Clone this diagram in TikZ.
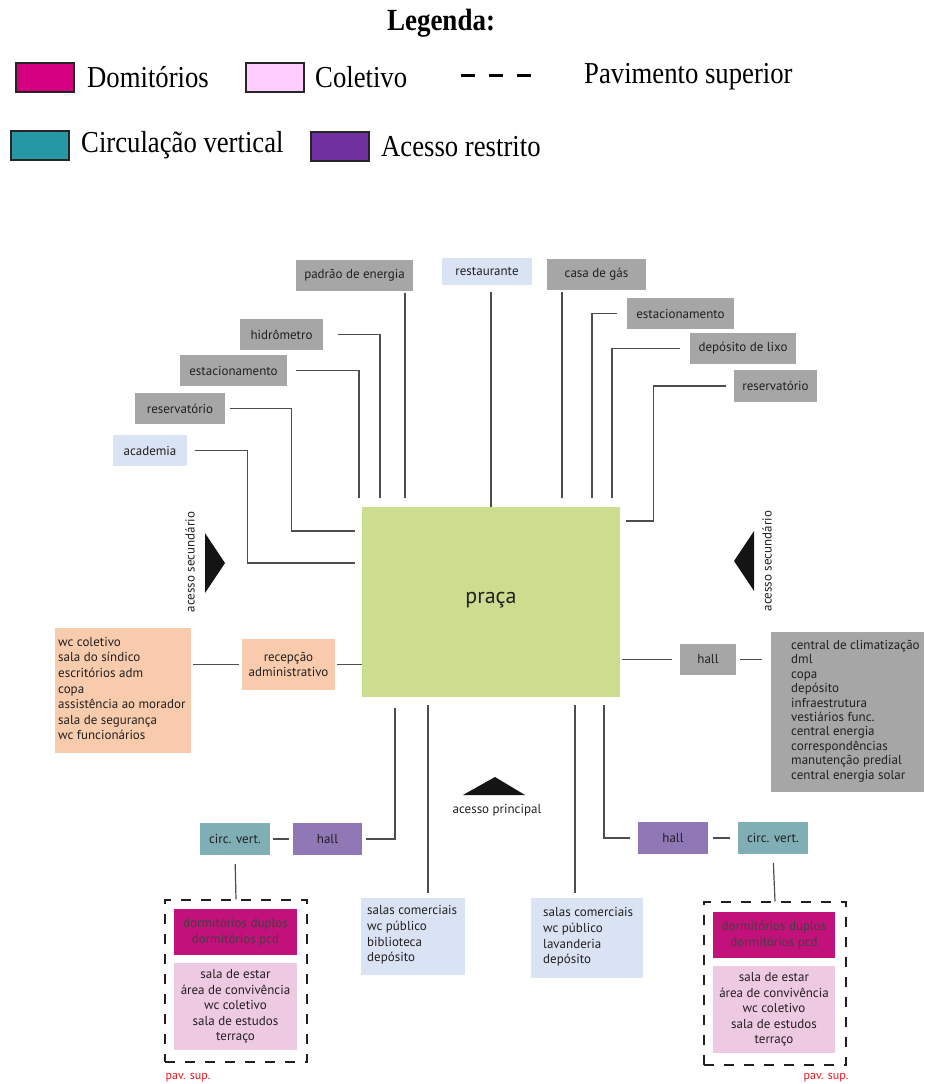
\documentclass[tikz,border=0pt]{standalone}
\usepackage{fontspec}
\setmainfont{Liberation Serif}
\newfontfamily\dgfont{PT Sans}
\usetikzlibrary{calc}
\definecolor{txt}{HTML}{231F20}
\definecolor{lgray}{HTML}{A6A6A6}
\definecolor{lblue}{HTML}{DAE3F3}
\definecolor{pgreen}{HTML}{CCDD90}
\definecolor{peach}{HTML}{F8CBAD}
\definecolor{cteal}{HTML}{7FAEB5}
\definecolor{cpurp}{HTML}{9077B5}
\definecolor{dmag}{HTML}{C2117A}
\definecolor{cpink}{HTML}{EDC9E2}
\definecolor{legmag}{HTML}{D4007F}
\definecolor{legpink}{HTML}{FFCCFF}
\definecolor{legteal}{HTML}{2697A5}
\definecolor{legpurp}{HTML}{7030A0}
\definecolor{conncol}{HTML}{4D4D4D}
\definecolor{pavred}{HTML}{E8141B}
\newcommand\tallt[1]{\scalebox{1}[1.14]{#1}}
\tikzset{
  bx/.style={inner sep=0pt, font=\dgfont\fontsize{13}{15.6}\selectfont, text=txt, align=center},
  gbox/.style={bx, fill=lgray},
  bbox/.style={bx, fill=lblue},
  listtxt/.style={bx, align=left, anchor=west},
  conn/.style={draw=conncol, line width=1.2pt},
  dashbox/.style={draw=txt, line width=1.2pt, dash pattern=on 10pt off 10pt, inner sep=0pt},
  legsq/.style={draw=black!85, line width=2pt, minimum width=58pt, minimum height=29pt, inner sep=0pt},
  legtxt/.style={font=\fontsize{26.7}{30}\selectfont, inner sep=0pt, anchor=west},
  acc/.style={font=\dgfont\fontsize{13}{15}\selectfont, text=txt, inner sep=0pt},
  pav/.style={font=\dgfont\fontsize{12}{14}\selectfont, text=pavred, inner sep=0pt}
}
\begin{document}
\begin{tikzpicture}[x=1pt,y=-1pt]
\useasboundingbox (0,0) rectangle (924,1084);
% ---------- legend
\node[font=\bfseries\fontsize{27}{30}\selectfont, inner sep=0pt] (legtitle) at (441,23) {\tallt{Legenda:}};
\node[legsq, fill=legmag] (legD) at (45,77) {};
\node[legtxt] (legDt) at (87,77) {\tallt{Domitórios}};
\node[legsq, fill=legpink] (legC) at (274.5,77) {};
\node[legtxt] (legCt) at (315,77) {\tallt{Coletivo}};
\coordinate (dashA) at (461,75);
\coordinate (dashB) at (531,75);
\draw[line width=3pt, dash pattern=on 14pt off 14pt, black] (dashA) -- (dashB);
\node[legtxt] (legPt) at (584,77) {\tallt{Pavimento superior}};
\node[legsq, fill=legteal] (legV) at (40,145) {};
\node[legtxt] (legVt) at (81,145) {\tallt{Circulação vertical}};
\node[legsq, fill=legpurp] (legR) at (339.5,146.5) {};
\node[legtxt] (legRt) at (381,147) {\tallt{Acesso restrito}};
% ---------- central
\node[bx, fill=pgreen, minimum width=258pt, minimum height=190pt, font=\dgfont\fontsize{22}{24}\selectfont] (praca) at (491,602) {\raisebox{8pt}{praça}};
% ---------- top boxes
\node[gbox, minimum width=117pt, minimum height=31pt] (pe) at (354.5,275.5) {padrão de energia};
\node[bbox, minimum width=90pt, minimum height=27pt] (rest) at (487,271.5) {restaurante};
\node[gbox, minimum width=99pt, minimum height=31pt] (gas) at (596.5,274.5) {casa de gás};
\node[gbox, minimum width=107pt, minimum height=31pt] (estR) at (680.5,313.5) {estacionamento};
\node[gbox, minimum width=106pt, minimum height=31pt] (lixo) at (743,348.5) {depósito de lixo};
\node[gbox, minimum width=83pt, minimum height=32pt] (resR) at (775.5,386) {reservatório};
\node[gbox, minimum width=83pt, minimum height=31pt] (hid) at (281.5,334.5) {hidrômetro};
\node[gbox, minimum width=107pt, minimum height=31pt] (estL) at (233.5,370.5) {estacionamento};
\node[gbox, minimum width=90pt, minimum height=31pt] (resL) at (180,408.5) {reservatório};
\node[bbox, minimum width=74pt, minimum height=31pt] (acad) at (150,450.5) {academia};
% connectors top
\draw[conn, shorten <=2pt, shorten >=9pt] (pe.south -| 405,0) -- (praca.north -| 405,0);
\draw[conn, shorten <=7pt] (rest.south -| 491,0) -- (praca.north -| 491,0);
\draw[conn, shorten <=2pt, shorten >=9pt] (gas.south -| 562,0) -- (praca.north -| 562,0);
\draw[conn, shorten <=10pt, shorten >=9pt] (estR.west) -| (praca.north -| 592,0);
\draw[conn, shorten <=10pt, shorten >=9pt] (lixo.west) -| (praca.north -| 612,0);
\draw[conn, shorten <=8pt, shorten >=6pt] (resR.west) -| ($(praca.east |- 0,521)+(33,0)$) -- (praca.east |- 0,521);
\draw[conn, shorten <=15pt, shorten >=9pt] (hid.east) -| (praca.north -| 380,0);
\draw[conn, shorten <=9pt, shorten >=9pt] (estL.east) -| (praca.north -| 359,0);
\draw[conn, shorten <=5pt, shorten >=7pt] (resL.east) -| ($(praca.west |- 0,531)+(-70,0)$) -- (praca.west |- 0,531);
\draw[conn, shorten <=8pt, shorten >=7pt] (acad.east) -| ($(praca.west |- 0,563)+(-114,0)$) -- (praca.west |- 0,563);
% ---------- secondary accesses
\fill[black!92] (205,533) -- (225,563) -- (205,593) -- cycle;
\node[acc, rotate=90] (accL) at (190,562) {acesso secundário};
\fill[black!92] (754,531) -- (734,561) -- (754,591) -- cycle;
\node[acc, rotate=90] (accR) at (767,561) {acesso secundário};
% ---------- left admin
\node[bx, fill=peach, minimum width=93pt, minimum height=51pt] (recep) at (288.5,664.5) {recepção\\administrativo};
\node[bx, fill=peach, minimum width=136pt, minimum height=125pt] (listL) at (123,690.5) {};
\node[listtxt] (listLt) at (58,688.5) {wc coletivo\\sala do síndico\\escritórios adm\\copa\\assistência ao morador\\sala de segurança\\wc funcionários};
\draw[conn, shorten <=2pt] (recep.east) -- (praca.west |- recep.east);
\draw[conn, shorten <=2pt, shorten >=3pt] (listL.east |- recep.west) -- (recep.west);
% ---------- right service
\node[gbox, minimum width=56pt, minimum height=31pt] (hallR) at (708,659.5) {hall};
\node[gbox, minimum width=153pt, minimum height=160pt] (listR) at (847.5,712) {};
\node[listtxt, font=\dgfont\fontsize{13}{14.45}\selectfont] (listRt) at (791,711) {central de climatização\\dml\\copa\\depósito\\infraestrutura\\vestiários func.\\central energia\\correspondências\\manutenção predial\\central energia solar};
\draw[conn, shorten <=2pt, shorten >=8pt] (praca.east |- hallR.west) -- (hallR.west);
\draw[conn, shorten <=4pt, shorten >=9pt] (hallR.east) -- (listR.west |- hallR.east);
% ---------- main access
\fill[black!92] (463,795) -- (495,777) -- (525,795) -- cycle;
\node[acc] (accP) at (497,810) {acesso principal};
% ---------- bottom left
\node[bx, fill=cteal, minimum width=70pt, minimum height=32pt] (circL) at (235,839) {circ. vert.};
\node[bx, fill=cpurp, minimum width=69pt, minimum height=32pt] (hallL) at (327.5,839) {hall};
\node[dashbox, minimum width=142pt, minimum height=162pt] (dashL) at (236,981) {};
\node[bx, fill=dmag, minimum width=123pt, minimum height=46pt, text=black!75] (dormL) at (235.5,932) {dormitórios duplos\\dormitórios pcd};
\node[bx, fill=cpink, minimum width=123pt, minimum height=87pt] (colL) at (235.5,1006.5) {sala de estar\\área de convivência\\wc coletivo\\sala de estudos\\terraço};
\node[pav] (pavL) at (188,1078) {pav. sup.};
\node[bbox, minimum width=104pt, minimum height=77pt] (salasL) at (413,936.5) {};
\node[listtxt] (salasLt) at (367,935) {salas comerciais\\wc público\\biblioteca\\depósito};
\draw[conn, shorten <=11pt, shorten >=4pt] (praca.south -| 395,0) |- (hallL.east);
\draw[conn, shorten <=3pt, shorten >=4pt] (circL.east) -- (hallL.west);
\draw[conn, shorten <=9pt] (circL.south) -- (dashL.north);
\draw[conn, shorten <=8pt, shorten >=5pt] (praca.south -| 428,0) -- (salasL.north -| 428,0);
% ---------- bottom right
\node[bbox, minimum width=112pt, minimum height=80pt] (salasR) at (587,938) {};
\node[listtxt] (salasRt) at (543,937) {salas comerciais\\wc público\\lavanderia\\depósito};
\node[bx, fill=cpurp, minimum width=70pt, minimum height=32pt] (hallR2) at (673,838) {hall};
\node[bx, fill=cteal, minimum width=70pt, minimum height=32pt] (circR) at (773,838) {circ. vert.};
\node[dashbox, minimum width=142pt, minimum height=163pt] (dashR) at (775,983.5) {};
\node[bx, fill=dmag, minimum width=122pt, minimum height=46pt, text=black!75] (dormR) at (774,935) {dormitórios duplos\\dormitórios pcd};
\node[bx, fill=cpink, minimum width=122pt, minimum height=87pt] (colR) at (774,1009.5) {sala de estar\\área de convivência\\wc coletivo\\sala de estudos\\terraço};
\node[pav] (pavR) at (826,1078) {pav. sup.};
\draw[conn, shorten <=8pt, shorten >=5pt] (praca.south -| 575,0) -- (salasR.north -| 575,0);
\draw[conn, shorten <=8pt, shorten >=8pt] (praca.south -| 604,0) |- (hallR2.west);
\draw[conn, shorten <=5pt, shorten >=8pt] (hallR2.east) -- (circR.west);
\draw[conn, shorten <=9pt] (circR.south) -- (dashR.north);
\end{tikzpicture}
\end{document}
